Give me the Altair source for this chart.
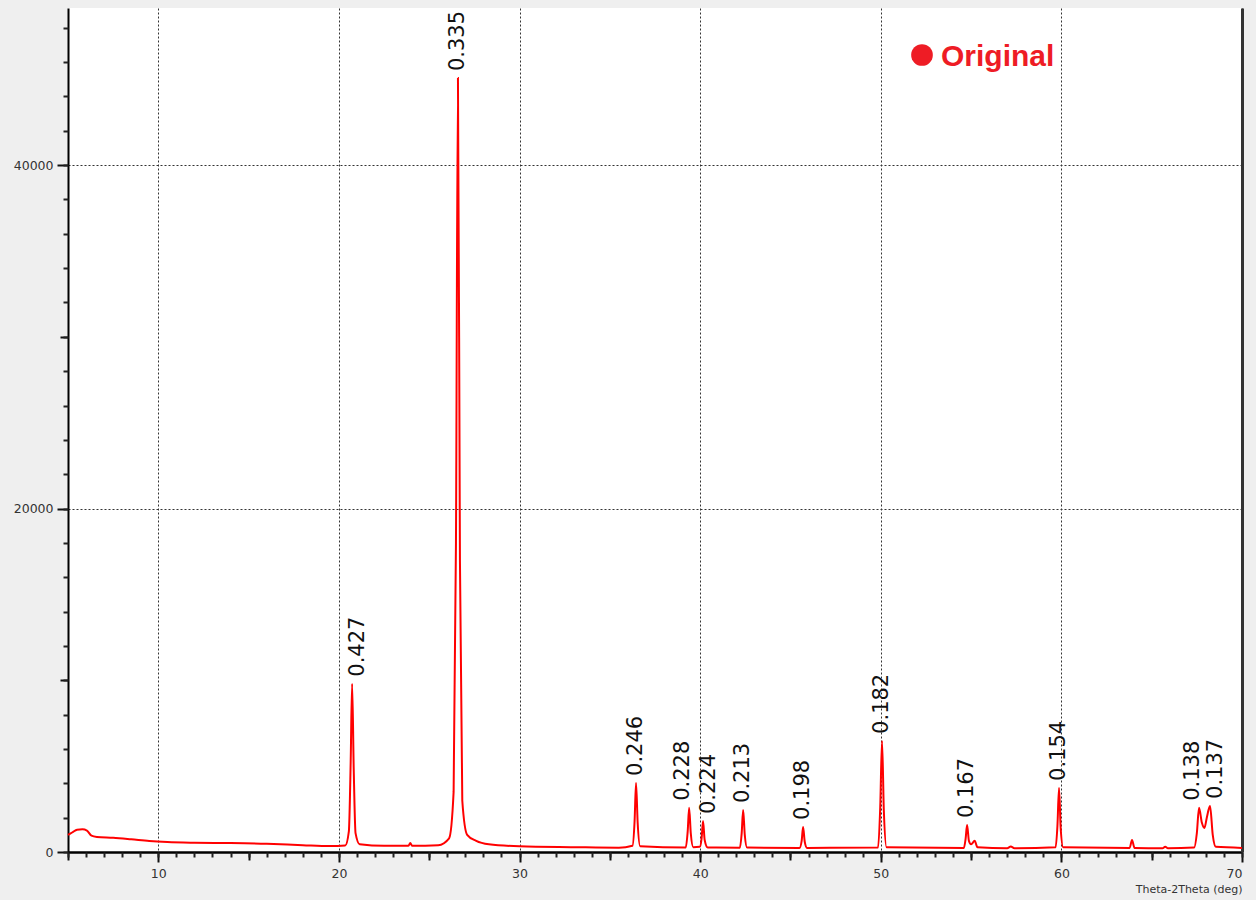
import altair as alt
import pandas as pd

# Diffraction pattern (2-theta in degrees, counts)
two_theta = [
    5.00, 5.25, 5.50, 5.80, 6.05, 6.30, 6.60, 7.50, 8.50, 9.50, 10.50, 12.00,
    14.00, 16.00, 18.00, 19.50, 20.35, 20.55, 20.65, 20.73, 20.82, 20.92, 21.15,
    22.50, 23.85, 23.95, 24.05, 25.50, 26.10, 26.35, 26.48, 26.59, 26.70, 26.83,
    27.10, 27.60, 28.30, 30.00, 33.00, 35.50, 36.25, 36.37, 36.45, 36.54, 36.68,
    39.20, 39.31, 39.39, 39.48, 39.62, 39.98, 40.08, 40.16, 40.25, 40.42,
    42.20, 42.30, 42.38, 42.47, 42.60, 45.50, 45.62, 45.70, 45.79, 45.92,
    49.85, 49.97, 50.07, 50.17, 50.32, 54.60, 54.70, 54.78, 54.88, 55.00,
    55.20, 55.35, 57.00, 57.20, 57.40, 59.68, 59.78, 59.87, 59.96, 60.10,
    63.78, 63.91, 64.05, 65.60, 65.75, 65.90, 67.35, 67.50, 67.62, 67.78,
    67.92, 68.05, 68.23, 68.38, 68.55, 70.00,
]
counts = [
    1000, 1150, 1300, 1320, 1250, 950, 880, 830, 740, 640, 580, 540,
    520, 480, 400, 350, 380, 1200, 5200, 9800, 4800, 1100, 450,
    360, 360, 520, 360, 400, 800, 3500, 18000, 45070, 17000, 3000,
    1000, 650, 450, 330, 280, 250, 360, 1800, 4020, 1700, 330,
    260, 1200, 2570, 1100, 280, 300, 800, 1800, 700, 260,
    250, 1100, 2450, 1000, 260, 240, 650, 1460, 600, 240,
    260, 2600, 6470, 2400, 270, 240, 800, 1570, 650, 450,
    650, 280, 220, 320, 220, 270, 1500, 3730, 1400, 270,
    240, 700, 240, 220, 310, 220, 260, 1100, 2570, 1700,
    1400, 2000, 2680, 1000, 300, 240,
]

# Indexed reflections: position, peak counts and d-spacing (nm)
peak_2theta = [20.73, 26.59, 36.45, 39.39, 40.16, 42.38, 45.70, 50.07, 54.78, 59.87, 67.62, 68.23]
peak_counts = [9800, 45070, 4020, 2570, 1800, 2450, 1460, 6470, 1570, 3730, 2570, 2680]
d_spacing = ["0.427", "0.335", "0.246", "0.228", "0.224", "0.213", "0.198",
             "0.182", "0.167", "0.154", "0.138", "0.137"]
# which side of the peak a crowded label leans to (-1 left, 0 centred, 1 right)
label_side = [1, 0, 0, -1, 1, 0, 0, 0, 0, 0, -1, 1]

x_major = [10, 20, 30, 40, 50, 60, 70]
x_mid = [5, 15, 25, 35, 45, 55, 65]
x_minor = list(range(5, 71))
y_major = [0, 20000, 40000]
y_mid = [10000, 30000]
y_minor = list(range(0, 49001, 2000))

series_name = ["Original"]

W, H = 1174, 844
X_DOMAIN = [5, 70]
Y_DOMAIN = [0, 49150]
RED = "#ff0000"
FONT = "DejaVu Sans"

spectrum = pd.DataFrame({"two_theta": two_theta, "counts": counts})
peaks = pd.DataFrame({"two_theta": peak_2theta, "counts": peak_counts,
                      "d": d_spacing, "side": label_side})
legend_df = pd.DataFrame({"name": series_name})

xs = alt.Scale(domain=X_DOMAIN, nice=False, zero=False)
ys = alt.Scale(domain=Y_DOMAIN, nice=False)

tick_common = dict(labelFont=FONT, labelFontSize=12.5, labelColor="#333333",
                   tickColor="#111111", domainColor="#000000")

# main trace with labelled axes and dotted grid
line = alt.Chart(spectrum).mark_line(
    color=RED, strokeWidth=2, interpolate="monotone"
).encode(
    x=alt.X("two_theta:Q", scale=xs, axis=alt.Axis(
        orient="bottom", values=x_major, format="d", tickSize=10, tickWidth=2,
        domainWidth=2.5, grid=True, gridColor="#333333", gridDash=[2, 2],
        gridWidth=1, labelPadding=5, zindex=0,
        title="Theta-2Theta (deg)", titleFont=FONT, titleFontSize=11,
        titleFontWeight="normal", titleColor="#333333", titleX=W,
        titleY=37, titleAlign="right", titleBaseline="middle", **tick_common)),
    y=alt.Y("counts:Q", scale=ys, axis=alt.Axis(
        orient="left", values=y_major, format="d", tickSize=11, tickWidth=2,
        domainWidth=2, grid=True, gridColor="#333333", gridDash=[2, 2],
        gridWidth=1, labelPadding=4, title=None, zindex=0, **tick_common)),
)

# intermediate ticks (every 5 deg / 10000 counts)
mid_ticks = alt.Chart(spectrum).mark_line(opacity=0).encode(
    x=alt.X("two_theta:Q", scale=xs, axis=alt.Axis(
        orient="bottom", values=x_mid, labels=False, domain=False, grid=False,
        tickSize=8, tickWidth=2, tickColor="#111111", title=None)),
    y=alt.Y("counts:Q", scale=ys, axis=alt.Axis(
        orient="left", values=y_mid, labels=False, domain=False, grid=False,
        tickSize=8, tickWidth=2, tickColor="#111111", title=None)),
)

# minor ticks (every 1 deg / 2000 counts)
minor_ticks = alt.Chart(spectrum).mark_line(opacity=0).encode(
    x=alt.X("two_theta:Q", scale=xs, axis=alt.Axis(
        orient="bottom", values=x_minor, labels=False, domain=False, grid=False,
        tickSize=5, tickWidth=2, tickColor="#222222", title=None)),
    y=alt.Y("counts:Q", scale=ys, axis=alt.Axis(
        orient="left", values=y_minor, labels=False, domain=False, grid=False,
        tickSize=5, tickWidth=2, tickColor="#222222", title=None)),
)

# right-hand frame
frame = alt.Chart(spectrum).mark_line(opacity=0).encode(
    x=alt.X("two_theta:Q", scale=xs, axis=None),
    y=alt.Y("counts:Q", scale=ys, axis=alt.Axis(
        orient="right", labels=False, ticks=False, grid=False, domainWidth=3,
        domainColor="#333333", title=None)),
)


def peak_labels(side, shift):
    return alt.Chart(peaks).transform_filter(alt.datum.side == side).mark_text(
        angle=270, align="left", baseline="middle", dx=7, dy=shift,
        font=FONT, fontSize=21, color="#111111",
    ).encode(
        x=alt.X("two_theta:Q", scale=xs, axis=None),
        y=alt.Y("counts:Q", scale=ys, axis=None),
        text="d:N",
    )


labels = [peak_labels(-1, -6), peak_labels(0, 0), peak_labels(1, 6)]

legend_dot = alt.Chart(legend_df).mark_point(
    shape="circle", filled=True, size=470, color="#ee1c25", opacity=1
).encode(x=alt.value(854), y=alt.value(47))

legend_text = alt.Chart(legend_df).mark_text(
    align="left", baseline="alphabetic", font="Liberation Sans",
    fontSize=30, fontWeight="bold", color="#ee1c25",
).encode(x=alt.value(873), y=alt.value(58), text="name:N")

chart = alt.layer(
    line, mid_ticks, minor_ticks, frame, *labels, legend_dot, legend_text
).resolve_axis(x="independent", y="independent").properties(
    width=W, height=H,
    autosize=alt.AutoSizeParams(type="none"),
    padding={"left": 68, "top": 8, "right": 14, "bottom": 48},
    background="#efefef",
).configure_view(fill="#ffffff", stroke=None)

chart.save("out.html", embed_options={"renderer": "svg", "actions": False})
